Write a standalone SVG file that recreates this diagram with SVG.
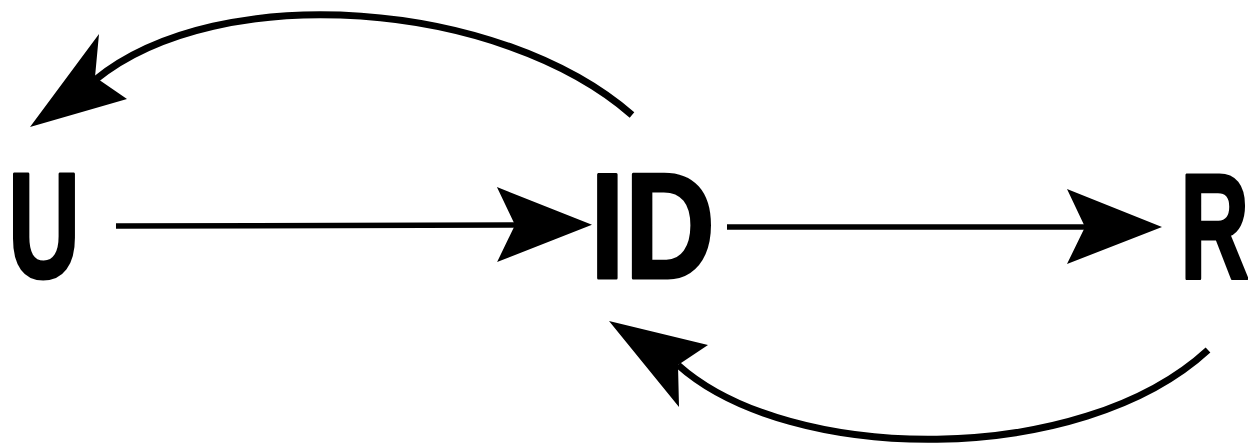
<svg xmlns="http://www.w3.org/2000/svg" width="1248" height="448" viewBox="0 0 1248 448">
  <style>
    .lbl { font-family: "Liberation Sans Narrow", "Liberation Sans", "DejaVu Sans Condensed", sans-serif; font-weight: bold; font-size: 150px; fill: #000; stroke: #000; stroke-width: 3; stroke-linejoin: round; }
    .edge { fill: none; stroke: #000; stroke-linecap: butt; }
    .straight { stroke-width: 5.5; }
    .curve { stroke-width: 7; }
    .head { fill: #000; stroke: none; }
  </style>
  <defs>
    <marker id="arrow" viewBox="-100 -40 105 80" markerWidth="105" markerHeight="80" markerUnits="userSpaceOnUse" refX="-77" refY="0" orient="auto">
      <path class="head" d="M0,0 L-95,-38 L-77,0 L-95,37 Z"/>
    </marker>
  </defs>
  <rect width="1248" height="448" fill="#fff"/>
  <g id="connectors">
    <line class="edge straight" x1="116" y1="226" x2="515" y2="225" marker-end="url(#arrow)"/>
    <line class="edge straight" x1="727" y1="227" x2="1085" y2="227" marker-end="url(#arrow)"/>
    <path class="edge curve" d="M632,115 C500,0 220,-22 95,80"/>
    <polygon class="head" points="30,127 99,34 95,77 127,99"/>
    <path class="edge curve" d="M1208,350 C1080,468 790,465 678,365"/>
    <polygon class="head" points="609,321 708,345 678,365 679,407"/>
  </g>
  <g id="node-U">
    <text class="lbl" x="8" y="278" textLength="72" lengthAdjust="spacingAndGlyphs">U</text>
  </g>
  <g id="node-ID">
    <text class="lbl" x="590" y="278" textLength="125" lengthAdjust="spacingAndGlyphs">ID</text>
  </g>
  <g id="node-R">
    <text class="lbl" x="0" y="0" transform="translate(1180,278) scale(0.64,1)">R</text>
  </g>
</svg>
